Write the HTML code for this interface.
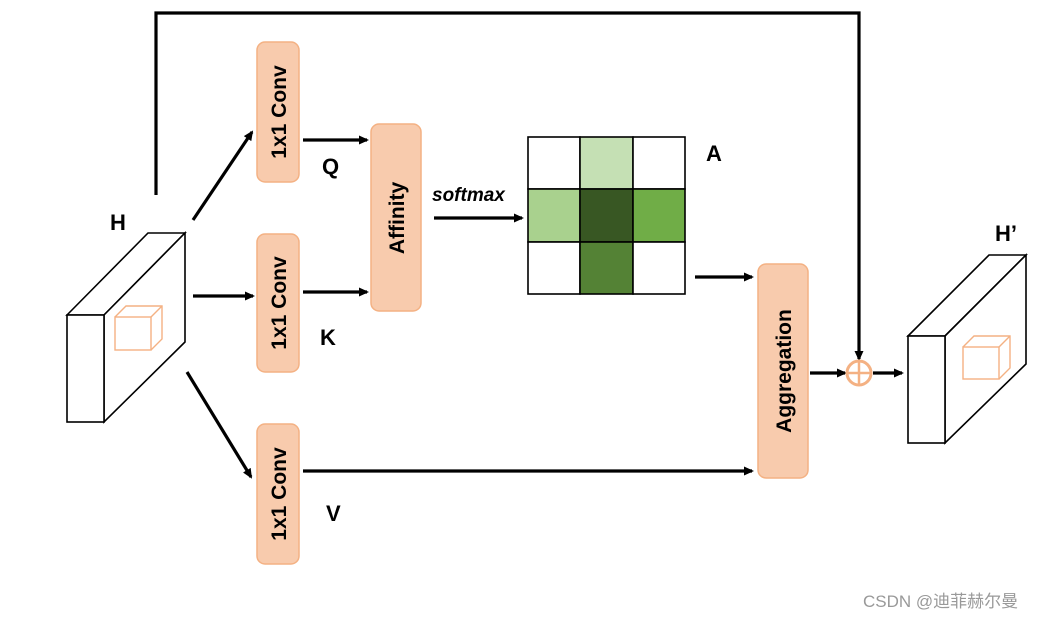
<!DOCTYPE html>
<html><head><meta charset="utf-8"><style>
html,body{margin:0;padding:0;background:#fff;width:1050px;height:618px;overflow:hidden}
text{font-family:"Liberation Sans","Noto Sans CJK SC",sans-serif}
</style></head><body>
<svg width="1050" height="618" viewBox="0 0 1050 618" xmlns="http://www.w3.org/2000/svg">
<defs><marker id="a" markerWidth="10" markerHeight="10" refX="8" refY="5" orient="auto" markerUnits="userSpaceOnUse"><path d="M0,0.5 L10,5 L0,9.5 z" fill="#000"/></marker></defs>
<g fill="none" stroke="#000" stroke-width="1.6">
<polygon points="67,315 148,233 185,233 104,315" fill="#fff"/>
<polygon points="104,315 185,233 185,342 104,422" fill="#fff"/>
<rect x="67" y="315" width="37" height="107" fill="#fff"/>
<polygon points="908,336 989,255 1026,255 945,336" fill="#fff"/>
<polygon points="945,336 1026,255 1026,364 945,443" fill="#fff"/>
<rect x="908" y="336" width="37" height="107" fill="#fff"/>
</g>
<g fill="none" stroke="#f4b183" stroke-width="1.4">
<rect x="115" y="317" width="36" height="33"/><polyline points="115,317 126,306 162,306 162,339 151,350"/><line x1="151" y1="317" x2="162" y2="306"/>
<rect x="963" y="347" width="36" height="32"/><polyline points="963,347 974,336 1010,336 1010,368 999,379"/><line x1="999" y1="347" x2="1010" y2="336"/>
</g>
<g fill="#f8cbad" stroke="#f4b183" stroke-width="1.5">
<rect x="257" y="42" width="42" height="140" rx="8"/>
<rect x="257" y="234" width="42" height="138" rx="8"/>
<rect x="257" y="424" width="42" height="140" rx="8"/>
<rect x="371" y="124" width="50" height="187" rx="8"/>
<rect x="758" y="264" width="50" height="214" rx="8"/>
</g>
<g font-weight="bold" font-size="21" fill="#000" text-anchor="middle">
<text transform="translate(286,112) rotate(-90)">1x1 Conv</text>
<text transform="translate(286,303) rotate(-90)">1x1 Conv</text>
<text transform="translate(286,494) rotate(-90)">1x1 Conv</text>
<text transform="translate(404,218) rotate(-90)">Affinity</text>
<text transform="translate(791,371) rotate(-90)">Aggregation</text>
</g>
<g stroke="#000" stroke-width="1.6">
<rect x="528" y="137" width="52" height="52" fill="#fff"/>
<rect x="580" y="137" width="53" height="52" fill="#c5e0b4"/>
<rect x="633" y="137" width="52" height="52" fill="#fff"/>
<rect x="528" y="189" width="52" height="53" fill="#a9d18e"/>
<rect x="580" y="189" width="53" height="53" fill="#385723"/>
<rect x="633" y="189" width="52" height="53" fill="#70ad47"/>
<rect x="528" y="242" width="52" height="52" fill="#fff"/>
<rect x="580" y="242" width="53" height="52" fill="#548235"/>
<rect x="633" y="242" width="52" height="52" fill="#fff"/>
</g>
<g stroke="#000" stroke-width="3.2" fill="none" marker-end="url(#a)">
<line x1="193" y1="220" x2="252" y2="132"/>
<line x1="193" y1="296" x2="253" y2="296"/>
<line x1="187" y1="372" x2="251" y2="477"/>
<line x1="303" y1="140" x2="367" y2="140"/>
<line x1="303" y1="292" x2="367" y2="292"/>
<line x1="434" y1="218" x2="522" y2="218"/>
<line x1="695" y1="277" x2="752" y2="277"/>
<line x1="303" y1="471" x2="752" y2="471"/>
<line x1="810" y1="373" x2="845" y2="373"/>
<line x1="873" y1="373" x2="902" y2="373"/>
<polyline points="156,195 156,13 859,13 859,359"/>
</g>
<circle cx="859" cy="373" r="12" fill="#fff" stroke="#f4b183" stroke-width="3"/>
<line x1="847" y1="373" x2="871" y2="373" stroke="#f4b183" stroke-width="2.5"/>
<line x1="859" y1="361" x2="859" y2="385" stroke="#f4b183" stroke-width="2.5"/>
<g font-weight="bold" font-size="22" fill="#000">
<text x="110" y="230">H</text>
<text x="995" y="241">H’</text>
<text x="322" y="174">Q</text>
<text x="320" y="345">K</text>
<text x="326" y="521">V</text>
<text x="706" y="161">A</text>
<text x="432" y="201" font-style="italic" font-size="19">softmax</text>
</g>
<text x="863" y="607" font-size="17" fill="#999">CSDN @迪菲赫尔曼</text>
</svg>
</body></html>
